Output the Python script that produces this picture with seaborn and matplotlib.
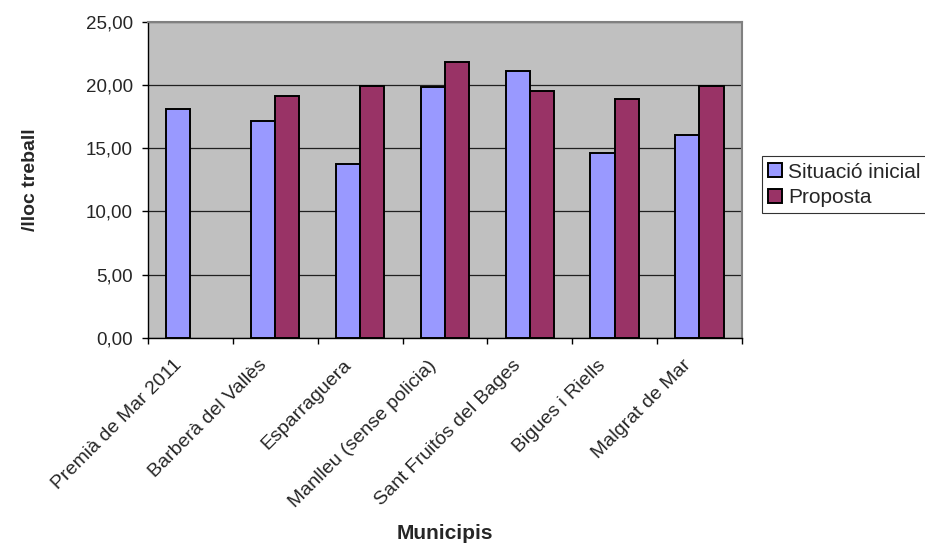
import pandas as pd
import matplotlib.pyplot as plt
import matplotlib.transforms as mtransforms
import seaborn as sns
from matplotlib.ticker import FuncFormatter, FixedLocator

# values
municipis = ['Premià de Mar 2011', 'Barberà del Vallès', 'Esparraguera',
             'Manlleu (sense policia)', 'Sant Fruitós del Bages',
             'Bigues i Riells', 'Malgrat de Mar']
situacio_inicial = [18.12, 17.17, 13.72, 19.83, 21.12, 14.64, 16.06]
proposta = [None, 19.15, 19.97, 21.87, 19.57, 18.91, 19.97]
series = ['Situació inicial', 'Proposta']
colors = ['#9999FF', '#993366']

df = pd.DataFrame({
    'municipi': municipis * 2,
    'valor': situacio_inicial + proposta,
    'serie': [series[0]] * len(municipis) + [series[1]] * len(municipis),
})

sns.set_style('white')
plt.rcParams['font.family'] = ['Liberation Sans', 'DejaVu Sans']

fig = plt.figure(figsize=(9.25, 5.47), dpi=100)
ax = fig.add_axes([0.16, 0.3826, 0.642, 0.5772])
ax.set_facecolor('#C0C0C0')

sns.barplot(data=df, x='municipi', y='valor', hue='serie', order=municipis,
            hue_order=series, palette=colors, saturation=1, width=0.57, gap=0,
            edgecolor='black', linewidth=1.4, ax=ax, zorder=3)

ax.set_ylim(0, 25)
ax.set_xlim(-0.5, len(municipis) - 0.5)
ax.set_yticks([0, 5, 10, 15, 20, 25])
ax.yaxis.set_major_formatter(FuncFormatter(lambda v, p: f'{v:.2f}'.replace('.', ',')))
ax.grid(axis='y', color='#202020', linewidth=0.9, zorder=1)
ax.set_axisbelow(True)

# category ticks at the boundaries, labels at the centres
ax.xaxis.set_minor_locator(FixedLocator([i - 0.5 for i in range(len(municipis) + 1)]))
ax.tick_params(axis='x', which='major', length=0, pad=18)
ax.tick_params(axis='x', which='minor', length=4.5, width=1, color='black', direction='out', bottom=True)
ax.tick_params(axis='y', length=4.5, width=1, color='black', direction='out', left=True, pad=6.5,
               labelsize=13.5)
ax.set_xticks(range(len(municipis)))
ax.set_xticklabels(municipis, rotation=45, ha='right', va='center', rotation_mode='anchor', fontsize=14)
shift = mtransforms.ScaledTranslation(-8 / 72, 0, fig.dpi_scale_trans)
for lbl in ax.get_xticklabels():
    lbl.set_transform(lbl.get_transform() + shift)

for side in ['top', 'right']:
    ax.spines[side].set_color('#808080')
    ax.spines[side].set_linewidth(1.5)
for side in ['left', 'bottom']:
    ax.spines[side].set_color('black')
    ax.spines[side].set_linewidth(1)

ax.set_xlabel('Municipis', fontsize=15, fontweight='bold')
ax.xaxis.set_label_coords(0.5, -0.59)
ax.set_ylabel('/lloc treball', fontsize=14, fontweight='bold')
ax.yaxis.set_label_coords(-0.183, 0.5)

leg = ax.legend(loc='upper left', bbox_to_anchor=(0.8235, 0.714), bbox_transform=fig.transFigure,
                frameon=True, fancybox=False, edgecolor='black', fontsize=15,
                handlelength=0.65, handleheight=0.65, handletextpad=0.3,
                borderpad=0.3, labelspacing=0.3, borderaxespad=0)
leg.get_frame().set_linewidth(0.8)

fig.savefig('out.png', dpi=100)
